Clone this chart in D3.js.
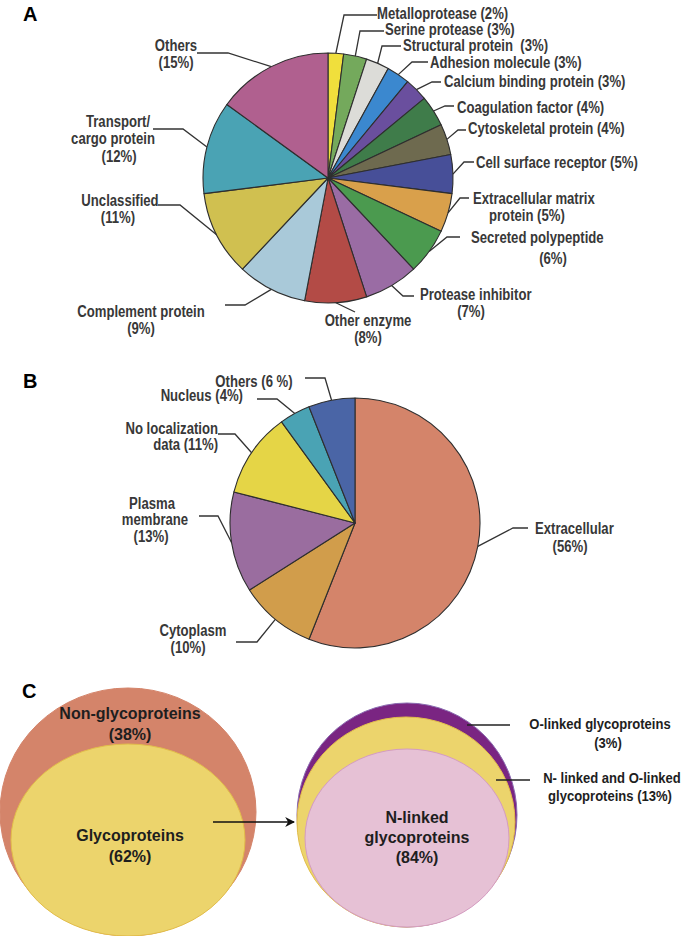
<!DOCTYPE html>
<html>
<head>
<meta charset="utf-8">
<script src="https://d3js.org/d3.v7.min.js"></script>
<style>
  body { margin: 0; background: #fff; }
  .lbl { font-family: "Liberation Sans", Arial, sans-serif; font-weight: bold; font-size: 16px; fill: #383838; white-space: pre; }
  .clbl { font-family: "Liberation Sans", Arial, sans-serif; font-weight: bold; fill: #1e1e1e; }
  .panel { font-family: "Liberation Sans", Arial, sans-serif; font-weight: bold; font-size: 20px; fill: #000; }
</style>
</head>
<body>
<div id="chart"></div>
<script>

// ---- data: panel A (protein classes) ----
var classNames = ["Metalloprotease", "Serine protease", "Structural protein", "Adhesion molecule",
  "Calcium binding protein", "Coagulation factor", "Cytoskeletal protein", "Cell surface receptor",
  "Extracellular matrix protein", "Secreted polypeptide", "Protease inhibitor", "Other enzyme",
  "Complement protein", "Unclassified", "Transport/cargo protein", "Others"];
var classPct = [2, 3, 3, 3, 3, 4, 4, 5, 5, 6, 7, 8, 9, 11, 12, 15];
var classColors = ["#f0df3c", "#74a95c", "#dcdcd8", "#3b88cf", "#6a4f9e", "#3f7c4a", "#6e6a4f",
  "#474f98", "#d9a04b", "#4b9a4f", "#9a6ca4", "#b34b46", "#a9c9d9", "#d0c050", "#4aa3b4", "#b0608f"];

// ---- data: panel B (localization) ----
var locNames = ["Extracellular", "Cytoplasm", "Plasma membrane", "No localization data", "Nucleus", "Others"];
var locPct = [56, 10, 13, 11, 4, 6];
var locColors = ["#d4846a", "#d19d4b", "#9a6d9f", "#e5d546", "#4aa3b4", "#4a65a6"];

// ---- data: panel C (glycosylation) ----
var glycoNames = ["Non-glycoproteins", "Glycoproteins"];
var glycoPct = [38, 62];
var linkNames = ["O-linked glycoproteins", "N- linked and O-linked glycoproteins", "N-linked glycoproteins"];
var linkPct = [3, 13, 84];

// ---- label layout (text lines + elbow of leader line) ----
// lines: [text, x, y, anchor]; elbow: [xText, xBend, y]
var labelsA = [
  { lines: [["Metalloprotease (2%)", 377, 13, "start"]], elbow: [377, 344, 15] },
  { lines: [["Serine protease (3%)", 385, 29, "start"]], elbow: [384, 360, 31] },
  { lines: [["Structural protein  (3%)", 403, 45, "start"]], elbow: [401, 382, 46] },
  { lines: [["Adhesion molecule (3%)", 430, 62, "start"]], elbow: [428, 412, 62] },
  { lines: [["Calcium binding protein (3%)", 444, 81, "start"]], elbow: [441, 432, 82] },
  { lines: [["Coagulation factor (4%)", 457, 107, "start"]], elbow: [454, 445, 106] },
  { lines: [["Cytoskeletal protein (4%)", 468, 128, "start"]], elbow: [466, 458, 130] },
  { lines: [["Cell surface receptor (5%)", 476, 162, "start"]], elbow: [474, 464, 162] },
  { lines: [["Extracellular matrix", 473, 198, "start"], ["protein (5%)", 489, 215, "start"]], elbow: [469, 460, 198] },
  { lines: [["Secreted polypeptide", 471, 237, "start"], ["(6%)", 553, 258, "middle"]], elbow: [460, 447, 237] },
  { lines: [["Protease inhibitor", 420, 294, "start"], ["(7%)", 471, 311, "middle"]], elbow: [414, 403, 296] },
  { lines: [["Other enzyme", 368, 320, "middle"], ["(8%)", 368, 337, "middle"]], elbow: [355, 355, 312] },
  { lines: [["Complement protein", 141, 311, "middle"], ["(9%)", 141, 328, "middle"]], elbow: [225, 245, 305] },
  { lines: [["Unclassified", 120, 200, "middle"], ["(11%)", 118, 217, "middle"]], elbow: [158, 180, 205] },
  { lines: [["Transport/", 118, 121, "middle"], ["cargo protein", 113, 138, "middle"], ["(12%)", 119, 156, "middle"]], elbow: [153, 183, 129] },
  { lines: [["Others", 176, 45, "middle"], ["(15%)", 176, 62, "middle"]], elbow: [197, 228, 53] }
];
var labelsB = [
  { lines: [["Extracellular", 535, 528, "start"], ["(56%)", 570, 546, "middle"]], elbow: [528, 513, 528] },
  { lines: [["Cytoplasm", 193, 630, "middle"], ["(10%)", 188, 647, "middle"]], elbow: [236, 257, 642] },
  { lines: [["Plasma", 152, 503, "middle"], ["membrane", 155, 519, "middle"], ["(13%)", 151, 536, "middle"]], elbow: [199, 218, 516] },
  { lines: [["No localization", 218, 428, "end"], ["data (11%)", 218, 444, "end"]], elbow: [218, 235, 434] },
  { lines: [["Nucleus (4%)", 243, 395, "end"]], elbow: [257, 277, 399] },
  { lines: [["Others (6 %)", 254, 381, "middle"]], elbow: [305, 325, 378] }
];

var W = 685, H = 936;
var narrow = 0.82; // condensed look for the pie labels

var svg = d3.select("#chart").append("svg")
  .attr("width", W).attr("height", H)
  .style("background", "#fff");

var defs = svg.append("defs");
defs.append("marker")
  .attr("id", "arrow")
  .attr("viewBox", "0 0 10 10")
  .attr("refX", 9).attr("refY", 5)
  .attr("markerWidth", 7).attr("markerHeight", 7)
  .attr("orient", "auto")
  .append("path").attr("d", "M0,0 L10,5 L0,10 L3,5 Z").attr("fill", "#111");

// draws one pie with labels + leader lines
function drawPie(names, values, colors, labels, cx, cy, r) {
  var pie = d3.pie().sort(null).value(function (d) { return d; });
  var arcs = pie(values);
  var arc = d3.arc().innerRadius(0).outerRadius(r);
  var edge = d3.arc().innerRadius(r).outerRadius(r);

  var g = svg.append("g").attr("transform", "translate(" + cx + "," + cy + ")");
  g.selectAll("path.slice")
    .data(arcs)
    .enter()
    .append("path")
    .attr("class", "slice")
    .attr("d", arc)
    .attr("fill", function (d, i) { return colors[i]; })
    .attr("stroke", "#2e2e2e")
    .attr("stroke-width", 1.1)
    .attr("stroke-linejoin", "round");

  // leader lines
  arcs.forEach(function (d, i) {
    var lab = labels[i];
    var p = edge.centroid(d);
    var e = lab.elbow;
    svg.append("path")
      .attr("d", "M" + e[0] + "," + e[2] + "L" + e[1] + "," + e[2] + "L" + (cx + p[0]) + "," + (cy + p[1]))
      .attr("fill", "none")
      .attr("stroke", "#333")
      .attr("stroke-width", 1.3);
    lab.lines.forEach(function (l) {
      svg.append("text")
        .attr("class", "lbl")
        .attr("transform", "translate(" + l[1] + "," + l[2] + ") scale(" + narrow + ",1)")
        .attr("dy", "0.36em")
        .attr("text-anchor", l[3])
        .text(l[0]);
    });
  });
}

drawPie(classNames, classPct, classColors, labelsA, 328, 178, 125);
drawPie(locNames, locPct, locColors, labelsB, 355, 523, 125);

// ---- panel C: nested ellipses ----
var glycoShapes = [
  { cx: 128, cy: 812, rx: 128, ry: 124, fill: "#d4846a", stroke: "#d4846a" },
  { cx: 128, cy: 840, rx: 117, ry: 96, fill: "#ecd46c", stroke: "#e2bd4a" }
];
var linkShapes = [
  { cx: 407, cy: 815, rx: 110, ry: 112, fill: "#7a2582", stroke: "#8a6ab0" },
  { cx: 406, cy: 822, rx: 109, ry: 105, fill: "#ecd46c", stroke: "#e2bd4a" },
  { cx: 407, cy: 838, rx: 102, ry: 89, fill: "#e6c1d5", stroke: "#d49cc2" }
];

function drawEllipses(shapes) {
  svg.append("g").selectAll("ellipse")
    .data(shapes)
    .enter()
    .append("ellipse")
    .attr("cx", function (d) { return d.cx; })
    .attr("cy", function (d) { return d.cy; })
    .attr("rx", function (d) { return d.rx; })
    .attr("ry", function (d) { return d.ry; })
    .attr("fill", function (d) { return d.fill; })
    .attr("stroke", function (d) { return d.stroke; })
    .attr("stroke-width", 1);
}
drawEllipses(glycoShapes);
drawEllipses(linkShapes);

function ctext(str, x, y, size, sx) {
  svg.append("text").attr("class", "clbl")
    .attr("transform", "translate(" + x + "," + y + ") scale(" + (sx || 1) + ",1)")
    .attr("dy", "0.36em")
    .attr("text-anchor", "middle")
    .style("font-size", size + "px")
    .text(str);
}

ctext(glycoNames[0], 130, 713, 16);
ctext("(" + glycoPct[0] + "%)", 130, 734, 16);
ctext(glycoNames[1], 130, 835, 16);
ctext("(" + glycoPct[1] + "%)", 130, 856, 16);

ctext("N-linked", 417, 817, 16);
ctext("glycoproteins", 417, 837, 16);
ctext("(" + linkPct[2] + "%)", 417, 857, 16);

ctext(linkNames[0], 600, 724, 14.5, 0.9);
ctext("(" + linkPct[0] + "%)", 608, 743, 14.5, 0.9);
ctext("N- linked and O-linked", 612, 778, 14.5, 0.9);
ctext("glycoproteins (" + linkPct[1] + "%)", 610, 796, 14.5, 0.9);

svg.append("line").attr("x1", 467).attr("y1", 725).attr("x2", 510).attr("y2", 725)
  .attr("stroke", "#222").attr("stroke-width", 1.3);
svg.append("line").attr("x1", 496).attr("y1", 780).attr("x2", 530).attr("y2", 780)
  .attr("stroke", "#222").attr("stroke-width", 1.3);

// arrow between groups
svg.append("line")
  .attr("x1", 213).attr("y1", 822).attr("x2", 294).attr("y2", 822)
  .attr("stroke", "#111").attr("stroke-width", 1.4)
  .attr("marker-end", "url(#arrow)");

// panel letters
svg.append("text").attr("class", "panel").attr("x", 23).attr("y", 21).text("A");
svg.append("text").attr("class", "panel").attr("x", 23).attr("y", 388).text("B");
svg.append("text").attr("class", "panel").attr("x", 22).attr("y", 698).text("C");

</script>
</body>
</html>
